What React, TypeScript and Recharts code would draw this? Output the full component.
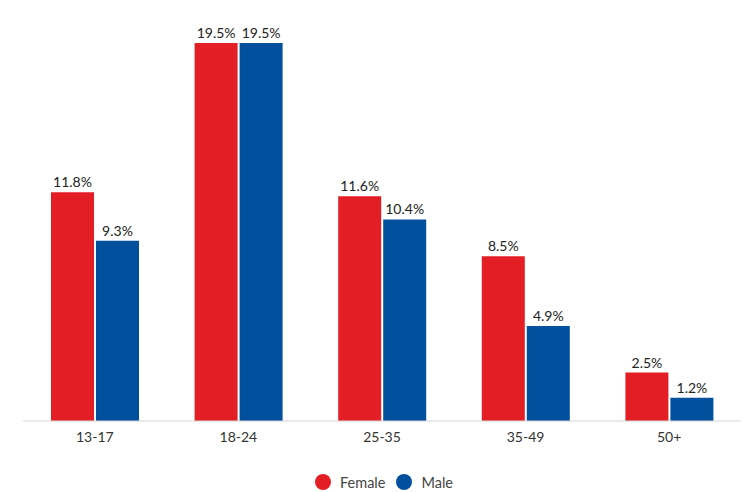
import { BarChart, Bar, XAxis, YAxis, Legend, LabelList } from 'recharts';

const AGE_GROUPS = ['13-17', '18-24', '25-35', '35-49', '50+'];
const FEMALE = [11.8, 19.5, 11.6, 8.5, 2.5];
const MALE = [9.3, 19.5, 10.4, 4.9, 1.2];

const SERIES = [
  { key: 'female', name: 'Female', color: '#e31e24' },
  { key: 'male', name: 'Male', color: '#00509e' },
];

const rows = AGE_GROUPS.map((age, i) => ({ age, female: FEMALE[i], male: MALE[i] }));

const FONT = 'Lato, "Open Sans", sans-serif';

function LegendDots() {
  return (
    <div
      style={{
        display: 'flex',
        justifyContent: 'center',
        alignItems: 'center',
        height: 16,
        fontFamily: FONT,
        fontSize: 14.5,
        color: '#444',
        paddingLeft: 4,
      }}
    >
      {SERIES.map((s, i) => (
        <span
          key={s.key}
          style={{ display: 'flex', alignItems: 'center', marginLeft: i > 0 ? 11 : 0 }}
        >
          <span
            style={{
              width: 16,
              height: 16,
              borderRadius: '50%',
              background: s.color,
              marginRight: 9,
            }}
          />
          {s.name}
        </span>
      ))}
    </div>
  );
}

export default function App() {
  return (
    <div style={{ position: 'absolute', left: 0, top: 0, width: 752, height: 492, background: '#fff' }}>
      <BarChart
        width={752}
        height={492}
        data={rows}
        margin={{ top: 43, right: 11, bottom: 0, left: 23 }}
        barSize={43}
        barGap={2}
      >
        <XAxis
          dataKey="age"
          height={55}
          tickLine={false}
          tickSize={0}
          tickMargin={11}
          axisLine={{ stroke: '#d4d4d4' }}
          tick={{ fontSize: 14, fill: '#333', fontFamily: FONT }}
        />
        <YAxis hide domain={[0, 19.5]} />
        <Legend verticalAlign="bottom" content={() => <LegendDots />} wrapperStyle={{ height: 16, bottom: 2 }} />
        {SERIES.map((s) => (
          <Bar key={s.key} dataKey={s.key} name={s.name} fill={s.color} isAnimationActive={false}>
            <LabelList
              dataKey={s.key}
              position="top"
              offset={5}
              formatter={(v: number) => `${v}%`}
              style={{ fontSize: 14, fill: '#222', fontFamily: FONT }}
            />
          </Bar>
        ))}
      </BarChart>
    </div>
  );
}
